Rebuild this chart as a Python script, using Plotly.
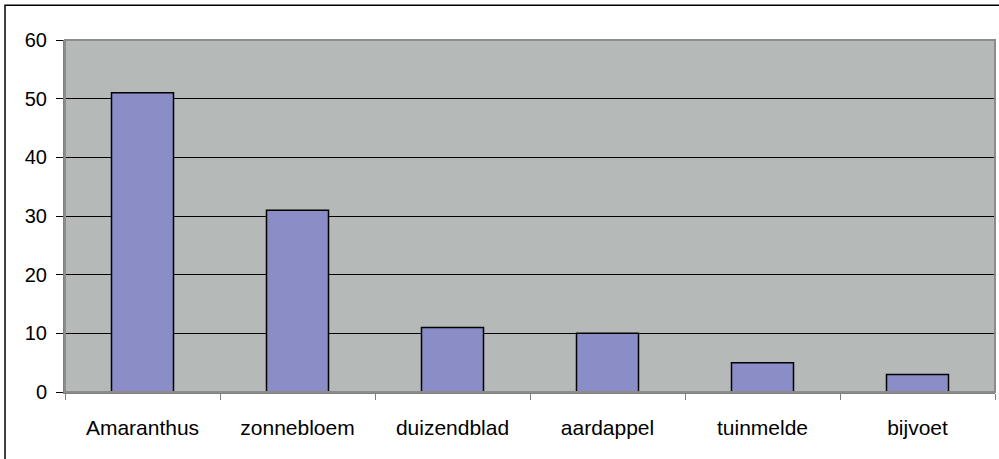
import plotly.graph_objects as go

# plant species and counts
soorten = ['Amaranthus', 'zonnebloem', 'duizendblad', 'aardappel', 'tuinmelde', 'bijvoet']
aantallen = [51, 31, 11, 10, 5, 3]
y_ticks = [0, 10, 20, 30, 40, 50, 60]

fig = go.Figure()
fig.add_trace(go.Bar(x=soorten, y=aantallen,
    marker=dict(color='#8a8dc6', line=dict(color='black', width=1.5)),
    width=0.4))

fig.update_layout(
    width=999, height=459,
    margin=dict(l=65, r=4, t=40, b=67),
    paper_bgcolor='white', plot_bgcolor='#b5b9b8',
    font=dict(family='Liberation Sans, Arial', size=21, color='black'),
    showlegend=False, bargap=0.6,
)
fig.update_xaxes(showgrid=False, showline=True, linecolor='#808080', linewidth=2,
    ticks='outside', tickson='boundaries', ticklen=6, tickcolor='#808080',
    ticklabelstandoff=16, mirror=False)
fig.update_yaxes(range=[0, 60], tickvals=y_ticks, showgrid=True, gridcolor='black', gridwidth=1,
    showline=True, linecolor='#808080', linewidth=2, ticks='outside', ticklen=7,
    tickcolor='black', ticklabelstandoff=5, zeroline=False, tickfont=dict(size=20))

# plot area frame and outer chart border
fig.add_shape(type='rect', xref='paper', yref='paper', x0=0, x1=1, y0=0, y1=1,
    line=dict(color='#8c8c8c', width=2), layer='above')
fig.add_shape(type='rect', xref='paper', yref='paper', x0=-0.0645, x1=1.01, y0=-0.25, y1=1.099,
    line=dict(color='black', width=1.5))

# drop the browser's default body margin so the chart sits at the page corner
fig.write_html("out.html", config={'displayModeBar': False},
               post_script="document.body.style.margin='0';")
